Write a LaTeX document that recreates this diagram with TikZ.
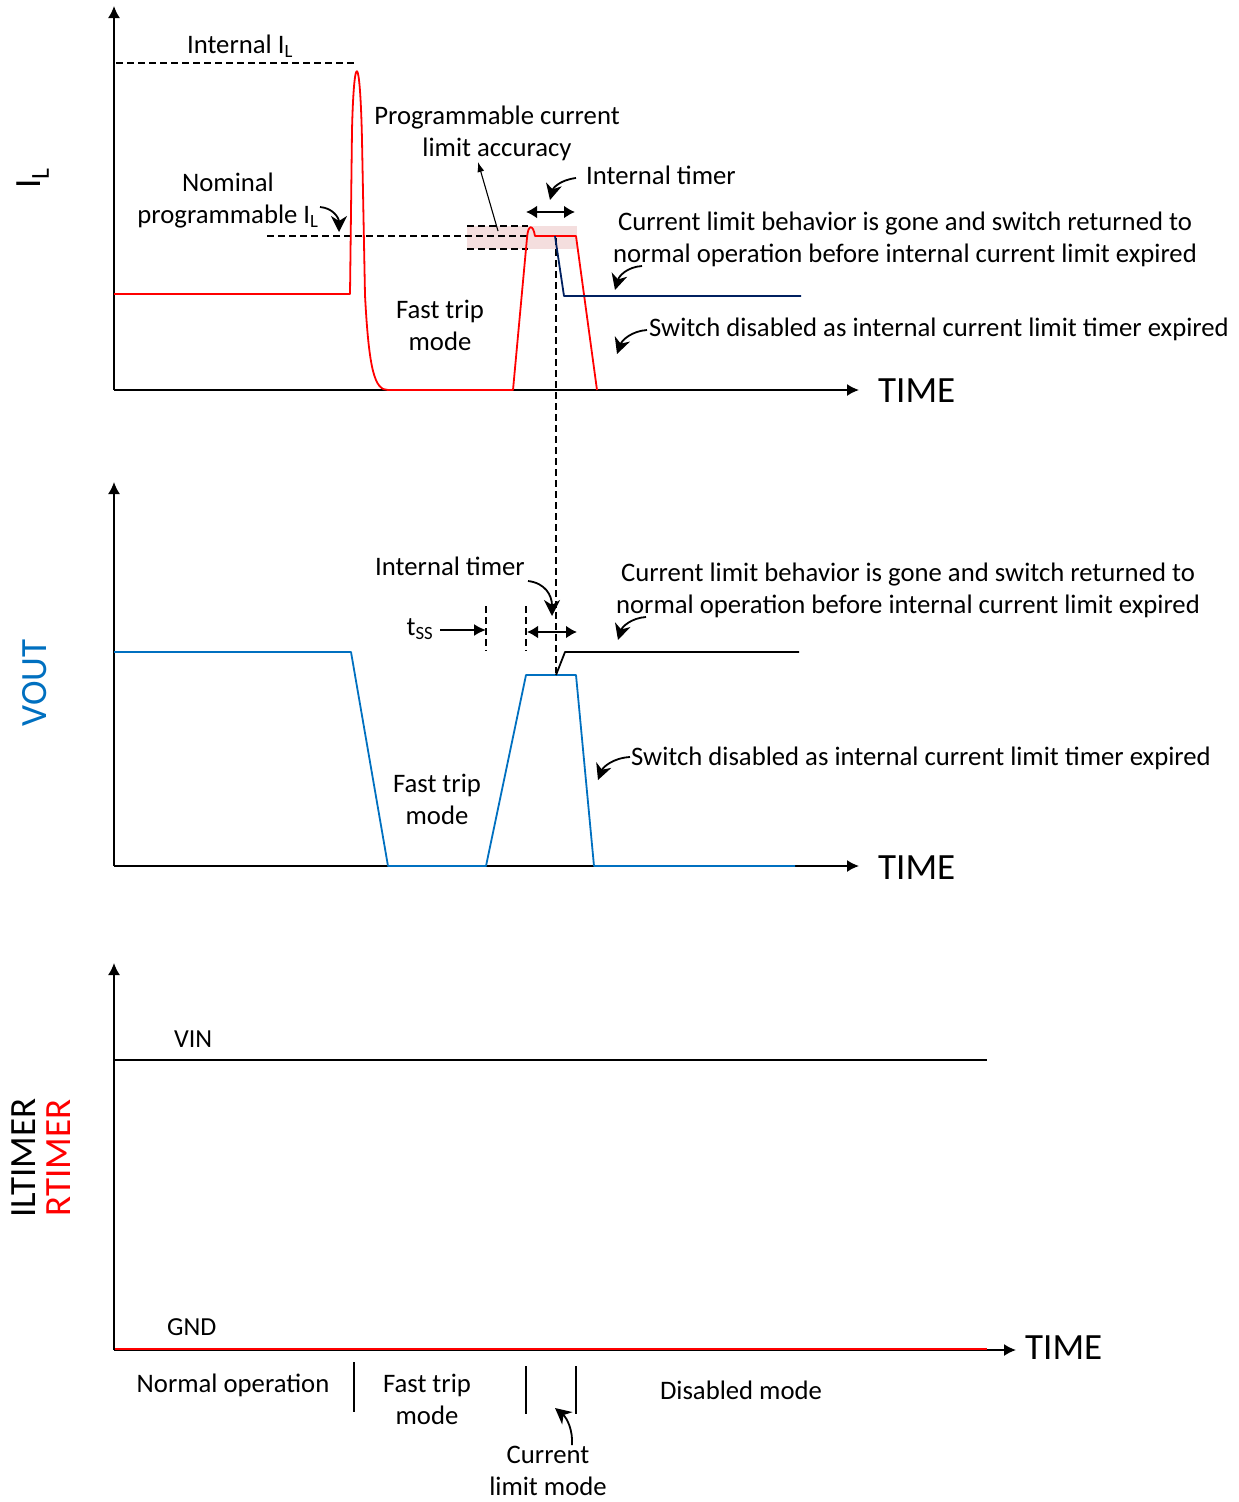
\documentclass[tikz,border=0pt]{standalone}
\usepackage{fontspec}
\setmainfont{Carlito}
\usetikzlibrary{arrows.meta}
\definecolor{vblue}{RGB}{0,112,192}
\definecolor{navy}{RGB}{0,32,96}
\definecolor{pinkfill}{RGB}{244,222,222}
\definecolor{myred}{RGB}{255,0,0}
\tikzset{
  axis/.style={line width=1.6pt,-{Latex[length=12pt,width=12pt]}},
  lbl/.style={font=\fontsize{26.7}{32}\selectfont,align=center,inner sep=0pt},
  big/.style={font=\fontsize{37}{40}\selectfont,inner sep=0pt},
  dsh/.style={line width=1.3pt,dash pattern=on 7pt off 4pt},
  curv/.style={line width=1.8pt,-{Stealth[length=16pt,width=16pt,inset=5pt]}},
  dbl/.style={line width=2.2pt,{Latex[length=11pt,width=13pt]}-{Latex[length=11pt,width=13pt]}},
  sig/.style={line width=1.8pt,line join=round},
  tick/.style={line width=1.8pt},
}
\begin{document}
\begin{tikzpicture}[x=1pt,y=-1pt]
\useasboundingbox[fill=white] (0,0) rectangle (1239,1502);

%================ TOP PANEL =================
\coordinate (o1) at (114,390);
\coordinate (y1) at (114,6);
\coordinate (x1) at (859,390);
\fill[pinkfill] (467,226) rectangle (577,249);
\draw[dsh] (116,63) -- (356,63);
\draw[dsh] (267,236) -- (528,236);
\draw[dsh] (467,226) -- (528,226);
\draw[dsh] (467,249) -- (528,249);
\draw[dsh] (556,238) -- (556,673);
\draw[axis] (o1) -- (y1);
\draw[axis] (o1) -- (x1);
\node[big,anchor=west] (time1) at (878,391) {TIME};
\node[big,rotate=90] (il) at (33,178) {I\textsubscript{L}};

% red I_L waveform
\draw[sig,myred] (114,294) -- (350,294) -- (352,130)
  .. controls (354,50) and (360,50) .. (362,140)
  -- (365,295) .. controls (369,372) and (375,390) .. (388,390)
  -- (513,390) -- (527,238)
  .. controls (528,224) and (533,224) .. (535,236)
  -- (576,236) -- (597,390);
% navy line
\draw[sig,navy] (555,236) -- (564,296) -- (801,296);

\node[lbl] (intil) at (240,46) {Internal I\textsubscript{L}};
\node[lbl] (prog) at (497,133) {Programmable current\\limit accuracy};
\coordinate (progtip) at (478,162);
\coordinate (progbase) at (498,231);
\draw[line width=1.1pt,-{Latex[length=10pt,width=7pt]}] (progbase) -- (progtip);

\node[lbl] (nom) at (228,201) {Nominal\\programmable I\textsubscript{L}};
\coordinate (nomA) at (320,207);
\coordinate (nomB) at (339,232);
\draw[curv] (nomA) .. controls (333,208) and (339,218) .. (nomB);

\node[lbl,anchor=west] (itimer1) at (586,175) {Internal timer};
\coordinate (it1A) at (576,178);
\coordinate (it1B) at (550,200);
\draw[curv] (it1A) .. controls (560,180) and (553,188) .. (it1B);
\coordinate (d1A) at (526,212);
\coordinate (d1B) at (575,212);
\draw[dbl] (d1A) -- (d1B);

\node[lbl] (clb1) at (905,239) {Current limit behavior is gone and switch returned to\\normal operation before internal current limit expired};
\coordinate (c1A) at (642,266);
\coordinate (c1B) at (615,290);
\draw[curv] (c1A) .. controls (627,267) and (619,276) .. (c1B);

\node[lbl,anchor=west] (sw1) at (649,329) {Switch disabled as internal current limit timer expired};
\coordinate (s1A) at (647,330);
\coordinate (s1B) at (617,354);
\draw[curv] (s1A) .. controls (632,331) and (622,340) .. (s1B);

\node[lbl] (ft1) at (440,325) {Fast trip\\mode};

%================ MIDDLE PANEL =================
\coordinate (o2) at (114,866);
\coordinate (y2) at (114,482);
\coordinate (x2) at (859,866);
\draw[axis] (o2) -- (y2);
\draw[axis] (o2) -- (x2);
\node[big,anchor=west] (time2) at (878,868) {TIME};
\node[big,rotate=90,text=vblue] (vout) at (35,683) {VOUT};

\draw[sig,vblue] (114,652) -- (351,652) -- (388,866) -- (486,866) -- (526,675)
  -- (576,675) -- (594,866) -- (795,866);
\draw[sig,black] (556,675) -- (565,652) -- (799,652);

\draw[dsh] (486,606) -- (486,651);
\draw[dsh] (526,606) -- (526,651);
\node[lbl] (tss) at (420,629) {t\textsubscript{SS}};
\coordinate (tssA) at (440,630);
\coordinate (tssB) at (486,630);
\draw[line width=1.8pt,-{Latex[length=12pt,width=12pt]}] (tssA) -- (tssB);
\coordinate (d2A) at (527,632);
\coordinate (d2B) at (577,632);
\draw[dbl] (d2A) -- (d2B);

\node[lbl] (itimer2) at (450,566) {Internal timer};
\coordinate (it2A) at (528,581);
\coordinate (it2B) at (552,616);
\draw[curv] (it2A) .. controls (545,583) and (552,595) .. (it2B);

\node[lbl] (clb2) at (908,590) {Current limit behavior is gone and switch returned to\\normal operation before internal current limit expired};
\coordinate (c2A) at (646,617);
\coordinate (c2B) at (618,640);
\draw[curv] (c2A) .. controls (631,618) and (622,627) .. (c2B);

\node[lbl,anchor=west] (sw2) at (631,758) {Switch disabled as internal current limit timer expired};
\coordinate (s2A) at (630,757);
\coordinate (s2B) at (598,780);
\draw[curv] (s2A) .. controls (613,758) and (603,767) .. (s2B);

\node[lbl] (ft2) at (437,799) {Fast trip\\mode};

%================ BOTTOM PANEL =================
\coordinate (o3) at (114,1350);
\coordinate (y3) at (114,963);
\coordinate (x3) at (1016,1350);
\draw[axis] (o3) -- (y3);
\draw[axis] (o3) -- (x3);
\draw[sig,myred] (115,1349) -- (987,1349);
\node[big,anchor=west] (time3) at (1025,1348) {TIME};
\draw[line width=1.5pt] (114,1060) -- (987,1060);
\node[lbl,anchor=west,font=\fontsize{26}{30}\selectfont] (vin) at (174,1039) {VIN};
\node[lbl,anchor=west,font=\fontsize{26}{30}\selectfont] (gnd) at (167,1327) {GND};
\node[big,rotate=90] (iltimer) at (24,1158) {ILTIMER};
\node[big,rotate=90,text=myred] (rtimer) at (59,1158) {RTIMER};

\draw[tick] (354,1362) -- (354,1412);
\draw[tick] (526,1366) -- (526,1414);
\draw[tick] (576,1366) -- (576,1414);

\node[lbl] (normop) at (233,1385) {Normal operation};
\node[lbl] (ft3) at (427,1399) {Fast trip\\mode};
\node[lbl] (dis) at (741,1390) {Disabled mode};
\node[lbl] (clm) at (548,1471) {Current\\limit mode};
\coordinate (cmA) at (572,1445);
\coordinate (cmB) at (555,1408);
\draw[curv] (cmA) .. controls (573,1430) and (567,1418) .. (cmB);
\end{tikzpicture}
\end{document}
